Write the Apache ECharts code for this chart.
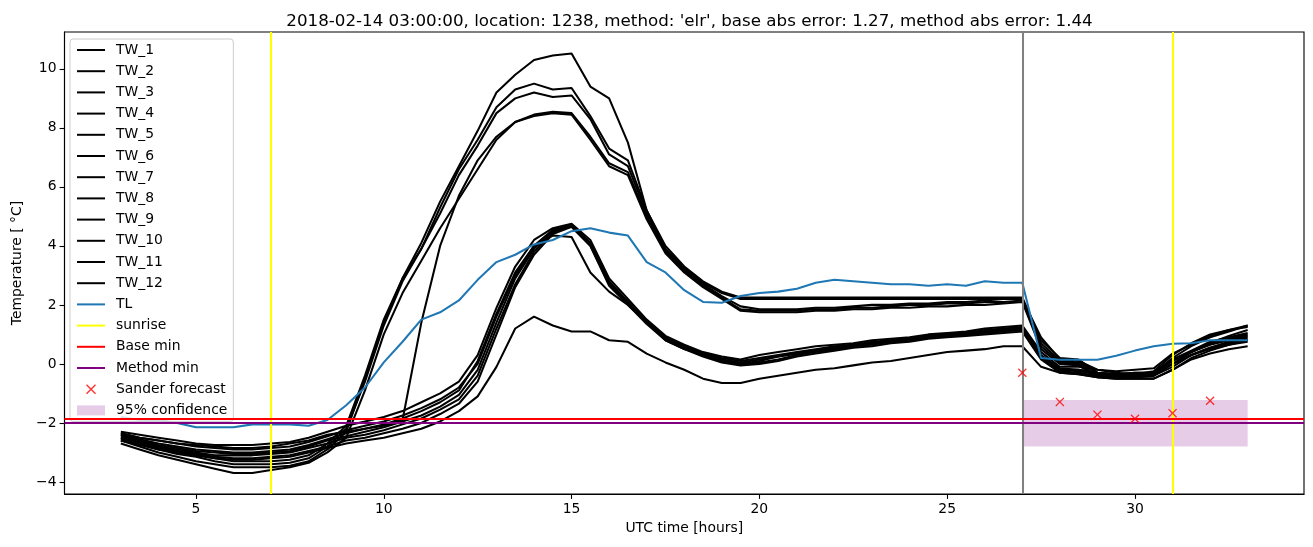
<!DOCTYPE html>
<html><head><meta charset="utf-8">
<script src="https://cdn.jsdelivr.net/npm/echarts@6/dist/echarts.min.js"></script>
<style>html,body{margin:0;padding:0;background:#fff}#chart{width:1313px;height:547px}</style>
</head><body><div id="chart"></div>
<script>
const hours = [3,3.5,4,4.5,5,5.5,6,6.5,7,7.5,8,8.5,9,9.5,10,10.5,11,11.5,12,12.5,13,13.5,14,14.5,15,15.5,16,16.5,17,17.5,18,18.5,19,19.5,20,20.5,21,21.5,22,22.5,23,23.5,24,24.5,25,25.5,26,26.5,27,27.5,28,28.5,29,29.5,30,30.5,31,31.5,32,32.5,33];

const TW_1 = [-2.6,-2.8,-3.0,-3.15,-3.3,-3.4,-3.5,-3.5,-3.5,-3.45,
 -3.3,-2.9,-2.3,-0.5,1.4,2.9,4.1,5.5,6.7,7.9,
 9.2,9.8,10.3,10.45,10.52,9.4,9.0,7.5,5.2,4.0,
 3.3,2.8,2.45,2.25,2.25,2.25,2.25,2.25,2.25,2.25,
 2.25,2.25,2.25,2.25,2.25,2.25,2.25,2.25,2.25,0.8,
 0.2,0.15,-0.3,-0.35,-0.3,-0.3,0.2,0.6,0.9,1.1,1.3];
const TW_2 = [-2.3,-2.4,-2.5,-2.6,-2.7,-2.75,-2.75,-2.75,-2.7,-2.65,
 -2.5,-2.3,-2.1,-1.95,-1.8,-1.6,-1.3,-1.0,-0.6,0.3,
 1.9,3.3,4.2,4.6,4.75,4.2,2.9,2.2,1.5,0.95,
 0.65,0.4,0.25,0.15,0.3,0.4,0.5,0.6,0.65,0.7,
 0.8,0.85,0.9,1.0,1.05,1.1,1.2,1.25,1.3,0.4,
 -0.1,-0.1,-0.2,-0.25,-0.2,-0.15,0.35,0.65,0.95,1.15,1.3];
const TW_3 = [-2.5,-2.7,-2.9,-3.05,-3.15,-3.3,-3.4,-3.4,-3.4,-3.35,
 -3.2,-2.8,-2.2,-0.6,1.3,2.8,3.9,5.3,6.6,7.6,
 8.7,9.3,9.5,9.3,9.35,8.4,7.3,6.9,5.2,3.9,
 3.25,2.75,2.4,2.2,2.2,2.2,2.2,2.2,2.2,2.2,
 2.2,2.2,2.2,2.2,2.2,2.2,2.2,2.2,2.2,0.9,
 0.15,0.1,-0.2,-0.3,-0.35,-0.25,0.3,0.7,1.0,1.15,1.25];
const TW_4 = [-2.35,-2.5,-2.6,-2.7,-2.8,-2.85,-2.9,-2.9,-2.85,-2.8,
 -2.65,-2.45,-2.25,-2.1,-1.95,-1.75,-1.5,-1.2,-0.8,0.0,
 1.6,3.0,4.0,4.55,4.7,4.1,2.8,2.1,1.45,0.9,
 0.6,0.35,0.2,0.1,0.2,0.3,0.4,0.5,0.6,0.65,
 0.75,0.8,0.85,0.95,1.0,1.05,1.15,1.2,1.25,0.3,
 -0.15,-0.2,-0.3,-0.35,-0.3,-0.3,0.1,0.4,0.65,0.8,0.95];
const TW_5 = [-2.4,-2.6,-2.8,-2.95,-3.1,-3.2,-3.3,-3.3,-3.3,-3.25,
 -3.1,-2.7,-2.1,-0.4,1.5,2.9,3.9,5.1,6.4,7.4,
 8.5,9.0,9.2,9.05,9.1,8.3,7.1,6.7,5.1,3.85,
 3.2,2.7,2.3,1.95,1.85,1.85,1.85,1.9,1.9,1.95,
 2.0,2.0,2.05,2.05,2.1,2.1,2.15,2.2,2.2,0.7,
 0.1,0.05,-0.3,-0.4,-0.4,-0.4,0.0,0.4,0.7,0.85,1.0];
const TW_6 = [-2.4,-2.55,-2.7,-2.8,-2.9,-2.95,-3.0,-3.0,-2.95,-2.9,
 -2.75,-2.55,-2.35,-2.2,-2.05,-1.85,-1.6,-1.3,-0.9,0.1,
 1.7,3.1,4.0,4.35,4.3,3.1,2.45,2.0,1.4,0.85,
 0.55,0.3,0.1,0.0,0.1,0.25,0.35,0.45,0.55,0.6,
 0.7,0.75,0.8,0.9,0.95,1.0,1.1,1.15,1.2,0.25,
 -0.2,-0.25,-0.35,-0.4,-0.35,-0.35,0.0,0.3,0.55,0.7,0.85];
const TW_7 = [-2.7,-2.9,-3.1,-3.25,-3.4,-3.55,-3.7,-3.7,-3.6,-3.5,
 -3.35,-3.0,-2.5,-0.9,1.0,2.4,3.5,4.6,5.6,6.6,
 7.6,8.2,8.45,8.55,8.5,7.7,6.8,6.5,5.0,3.8,
 3.15,2.65,2.25,1.85,1.8,1.8,1.8,1.85,1.85,1.9,
 1.9,1.95,2.0,2.0,2.05,2.05,2.1,2.1,2.15,0.6,
 0.05,0.0,-0.4,-0.45,-0.45,-0.4,-0.1,0.3,0.55,0.75,0.9];
const TW_8 = [-2.45,-2.6,-2.75,-2.85,-2.95,-3.0,-3.05,-3.05,-3.0,-2.95,
 -2.8,-2.6,-2.45,-2.3,-2.15,-1.95,-1.75,-1.45,-1.05,-0.2,
 1.4,2.9,3.9,4.5,4.65,4.0,2.7,2.05,1.4,0.85,
 0.55,0.35,0.15,0.05,0.15,0.25,0.35,0.45,0.55,0.65,
 0.7,0.8,0.85,0.9,1.0,1.05,1.1,1.15,1.2,0.25,
 -0.2,-0.2,-0.3,-0.35,-0.35,-0.3,0.15,0.45,0.75,0.9,1.05];
const TW_9 = [-2.35,-2.5,-2.6,-2.7,-2.75,-2.8,-2.85,-2.85,-2.8,-2.7,
 -2.6,-2.4,-2.3,-2.2,-2.1,-1.9,1.4,4.0,5.7,6.9,
 7.7,8.2,8.4,8.5,8.45,7.6,6.7,6.4,4.9,3.75,
 3.1,2.6,2.2,1.8,1.75,1.75,1.75,1.8,1.8,1.85,
 1.85,1.9,1.9,1.95,1.95,2.0,2.0,2.05,2.1,0.5,
 0.0,-0.05,-0.45,-0.5,-0.5,-0.5,-0.2,0.2,0.45,0.65,0.8];
const TW_10 = [-2.5,-2.65,-2.8,-2.9,-3.0,-3.1,-3.1,-3.1,-3.05,-3.0,
 -2.85,-2.7,-2.5,-2.4,-2.25,-2.05,-1.85,-1.55,-1.2,-0.4,
 1.2,2.7,3.8,4.45,4.7,4.1,2.75,2.1,1.4,0.8,
 0.5,0.3,0.1,0.0,0.05,0.15,0.3,0.4,0.5,0.6,
 0.65,0.75,0.8,0.9,0.95,1.0,1.05,1.1,1.15,0.2,
 -0.25,-0.3,-0.4,-0.45,-0.45,-0.4,0.0,0.3,0.5,0.65,0.75];
const TW_11 = [-2.6,-2.75,-2.9,-3.0,-3.1,-3.2,-3.25,-3.25,-3.2,-3.15,
 -3.0,-2.85,-2.7,-2.6,-2.5,-2.35,-2.2,-1.95,-1.6,-1.1,
 -0.1,1.2,1.6,1.3,1.1,1.1,0.8,0.75,0.35,0.05,
 -0.2,-0.5,-0.65,-0.65,-0.5,-0.4,-0.3,-0.2,-0.15,-0.05,
 0.05,0.1,0.2,0.3,0.4,0.45,0.5,0.6,0.6,-0.1,
 -0.3,-0.35,-0.45,-0.45,-0.4,-0.35,0.1,0.4,0.7,0.95,1.15];
const TW_12 = [-2.55,-2.7,-2.85,-2.95,-3.05,-3.15,-3.2,-3.2,-3.15,-3.1,
 -2.95,-2.8,-2.6,-2.5,-2.35,-2.2,-2.0,-1.7,-1.35,-0.6,
 1.0,2.6,3.7,4.4,4.65,4.0,2.65,2.0,1.35,0.8,
 0.5,0.25,0.05,-0.05,0.0,0.1,0.25,0.35,0.45,0.55,
 0.6,0.7,0.75,0.85,0.9,0.95,1.0,1.05,1.1,0.15,
 -0.3,-0.35,-0.45,-0.5,-0.5,-0.5,-0.2,0.15,0.35,0.5,0.6];
const TL = [-1.8,-1.9,-1.9,-2.0,-2.15,-2.15,-2.15,-2.05,-2.05,-2.05,
 -2.1,-1.9,-1.4,-0.8,0.05,0.75,1.5,1.75,2.15,2.85,
 3.45,3.7,4.05,4.2,4.5,4.6,4.45,4.35,3.45,3.1,
 2.5,2.1,2.07,2.3,2.4,2.45,2.55,2.75,2.85,2.8,
 2.75,2.7,2.7,2.65,2.7,2.65,2.8,2.75,2.75,0.2,
 0.14,0.14,0.14,0.28,0.45,0.6,0.68,0.7,0.8,0.8,0.8];

const twSeriesValues = [TW_1,TW_2,TW_3,TW_4,TW_5,TW_6,TW_7,TW_8,TW_9,TW_10,TW_11,TW_12];
const sunriseHours = [7, 31];
const forecastStartHour = [27];
const baseMin = [-1.87];
const methodMin = [-2.0];
const forecastHours = [27, 28, 29, 30, 31, 32];
const forecastValues = [-0.3, -1.29, -1.72, -1.86, -1.67, -1.25];
const confidenceHours = [27, 33];
const confidenceBounds = [-2.8, -1.22];
const xTicks = [5, 10, 15, 20, 25, 30];
const yTicks = [-4, -2, 0, 2, 4, 6, 8, 10];
const titleText = "2018-02-14 03:00:00, location: 1238, method: 'elr', base abs error: 1.27, method abs error: 1.44";

const FONT = 'DejaVu Sans';
const LW = 2.05;
const X_PATH = 'path://M1,0 L5,4 L9,0 L10,1 L6,5 L10,9 L9,10 L5,6 L1,10 L0,9 L4,5 L0,1 Z';

const series = [];
twSeriesValues.forEach((vals, k) => series.push({
  name: 'TW_' + (k + 1), type: 'line', symbol: 'none', silent: true, z: 2,
  lineStyle: {color: '#000000', width: LW}, itemStyle: {color: '#000000'},
  emphasis: {disabled: true},
  data: hours.map((h, i) => [h, vals[i]])
}));
series.push({
  name: 'TL', type: 'line', symbol: 'none', silent: true, z: 3,
  lineStyle: {color: '#1f77b4', width: LW}, itemStyle: {color: '#1f77b4'},
  emphasis: {disabled: true},
  data: hours.map((h, i) => [h, TL[i]])
});
function refLine(name, color, axis, values, z) {
  return {
    name, type: 'line', symbol: 'none', data: [], z, silent: true,
    lineStyle: {color, width: LW}, itemStyle: {color},
    markLine: {silent: true, symbol: ['none', 'none'], label: {show: false},
      emphasis: {disabled: true},
      lineStyle: {color, width: LW, type: 'solid'},
      data: values.map(v => ({[axis]: v}))}
  };
}
series.push(refLine('forecast start', '#808080', 'xAxis', forecastStartHour, 4));
series.push(refLine('sunrise', '#ffff00', 'xAxis', sunriseHours, 4));
series.push(refLine('Base min', '#ff0000', 'yAxis', baseMin, 4));
series.push(refLine('Method min', '#800080', 'yAxis', methodMin, 4));
series.push({
  name: 'Sander forecast', type: 'scatter', symbol: X_PATH, symbolSize: 9, symbolKeepAspect: true,
  itemStyle: {color: '#ff0000'}, z: 5, silent: true,
  data: forecastHours.map((h, i) => [h, forecastValues[i]])
});
series.push({
  name: '95% confidence', type: 'line', symbol: 'none', data: [], z: 1, silent: true,
  itemStyle: {color: 'rgba(128,0,128,0.2)'}, lineStyle: {color: 'rgba(128,0,128,0.2)'},
  markArea: {silent: true, itemStyle: {color: 'rgba(128,0,128,0.2)'},
    data: [[{xAxis: confidenceHours[0], yAxis: confidenceBounds[0]}, {xAxis: confidenceHours[1], yAxis: confidenceBounds[1]}]]}
});

const lineLegendNames = twSeriesValues.map((_, k) => 'TW_' + (k + 1)).concat(['TL', 'sunrise', 'Base min', 'Method min']);
const legendData = lineLegendNames.map(n => ({name: n, itemStyle: {opacity: 0}}))
  .concat([{name: 'Sander forecast'}, {name: '95% confidence', icon: 'rect'}]);

const axisText = {color: '#000', fontFamily: FONT, fontSize: 13.9};
const minus = v => String(v).replace('-', '\u2212');

const chart = echarts.init(document.getElementById('chart'), null, {renderer: 'canvas'});
chart.setOption({
  animation: false,
  backgroundColor: '#ffffff',
  title: {text: titleText, left: 684.5, top: 8, textAlign: 'center',
    textStyle: {fontFamily: FONT, fontSize: 16.7, fontWeight: 'normal', color: '#000'}},
  grid: {left: 64.5, right: 9, top: 32, bottom: 53, show: true, borderColor: '#000', borderWidth: 1.1, backgroundColor: 'transparent'},
  legend: {
    orient: 'vertical', left: 70, top: 39, selectedMode: false,
    itemWidth: 28, itemHeight: 10, itemGap: 7.2,
    padding: [4, 6, 4, 6],
    backgroundColor: 'rgba(255,255,255,0.8)', borderColor: '#cccccc', borderWidth: 1, borderRadius: 3,
    textStyle: {fontFamily: FONT, fontSize: 13.9, color: '#000', padding: [0, 0, 0, 6]},
    data: legendData
  },
  xAxis: {
    type: 'value', min: 1.5, max: 34.5,
    splitLine: {show: false},
    axisLine: {show: true, onZero: false, lineStyle: {color: '#000', width: 1.1}},
    axisTick: {show: true, inside: false, length: 4.9, lineStyle: {color: '#000', width: 1.1}, customValues: xTicks},
    axisLabel: Object.assign({customValues: xTicks, margin: 8, formatter: minus}, axisText),
    name: 'UTC time [hours]', nameLocation: 'middle', nameGap: 27,
    nameTextStyle: axisText
  },
  yAxis: {
    type: 'value', min: -4.41, max: 11.25,
    splitLine: {show: false},
    axisLine: {show: true, onZero: false, lineStyle: {color: '#000', width: 1.1}},
    axisTick: {show: true, inside: false, length: 4.9, lineStyle: {color: '#000', width: 1.1}, customValues: yTicks},
    axisLabel: Object.assign({customValues: yTicks, margin: 8, formatter: minus}, axisText),
    name: 'Temperature [ \u00b0C]', nameLocation: 'middle', nameGap: 40, nameRotate: 90,
    nameTextStyle: axisText
  },
  series: series
});
</script></body></html>
